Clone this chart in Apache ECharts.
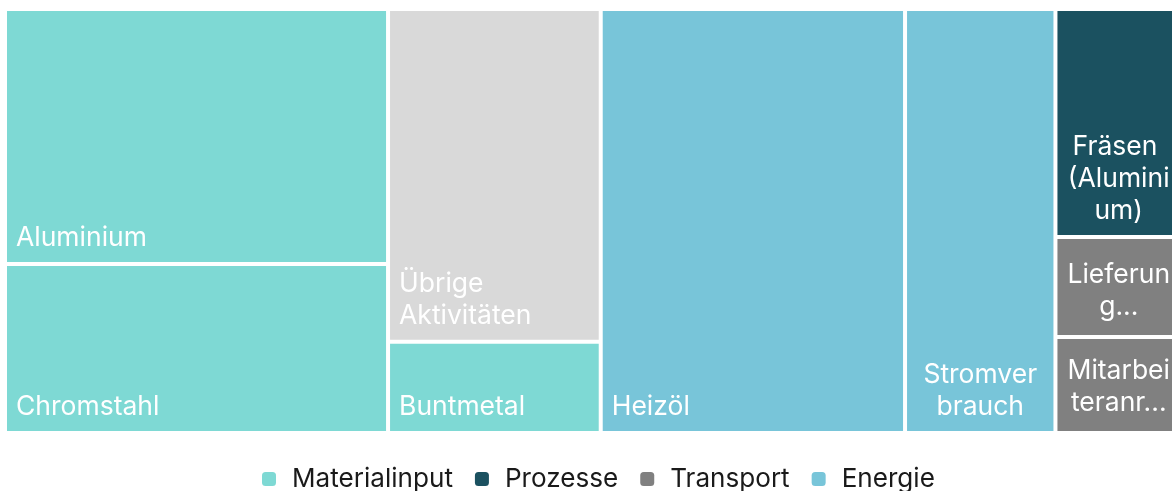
<!DOCTYPE html>
<html>
<head>
<meta charset="utf-8">
<script src="https://cdn.jsdelivr.net/npm/echarts@6/dist/echarts.min.js"></script>
<style>
  html, body { margin: 0; padding: 0; background: #fff; }
  #chart { width: 1172px; height: 491px; }
</style>
</head>
<body>
<div id="chart"></div>
<script>
// Legende / Kategorien
const categories = ['Materialinput', 'Prozesse', 'Transport', 'Energie'];
const categoryColors = ['#7ed9d4', '#1b5160', '#808080', '#78c5d9'];
const otherColor = '#d9d9d9';

// Anteile in %, Reihenfolge wie im Bild
const names = ['Aluminium', 'Chromstahl', 'Übrige Aktivitäten', 'Buntmetal', 'Heizöl',
               'Stromverbrauch', 'Fräsen (Aluminium)', 'Lieferung...', 'Mitarbeiteranr...'];
const values = [19.6, 13.0, 14.2, 3.9, 25.9, 12.8, 5.7, 2.5, 2.4];
const groups = ['Materialinput', 'Materialinput', null, 'Materialinput', 'Energie',
                'Energie', 'Prozesse', 'Transport', 'Transport'];
// 0 = Hauptblock, 1 = rechte Spalte
const blocks = [0, 0, 0, 0, 0, 0, 1, 1, 1];

// schmale Kacheln: Label zentriert
const labelTweaks = {
  'Stromverbrauch': {position: 'insideBottom'},
  'Fräsen (Aluminium)': {position: 'insideBottom', padding: [0, 6, 8, 8]},
  'Lieferung...': {position: 'insideBottom', padding: [0, 6, 12, 8]},
  'Mitarbeiteranr...': {position: 'insideBottom', padding: [0, 6, 12, 8]}
};

const tree = [{name: 'main', children: []}, {name: 'rest', children: []}];
names.forEach(function (n, i) {
  const g = groups[i];
  const node = {
    name: n,
    value: values[i],
    itemStyle: {color: g ? categoryColors[categories.indexOf(g)] : otherColor}
  };
  if (labelTweaks[n]) node.label = labelTweaks[n];
  tree[blocks[i]].children.push(node);
});

const totals = categories.map(function (c) {
  let s = 0;
  groups.forEach(function (g, i) { if (g === c) s += values[i]; });
  return s;
});

const chart = echarts.init(document.getElementById('chart'));
chart.setOption({
  animation: false,
  legend: {
    data: categories,
    left: 262,
    top: 466,
    padding: 0,
    icon: 'roundRect',
    itemWidth: 14,
    itemHeight: 14,
    itemGap: 22,
    selectedMode: false,
    textStyle: {fontFamily: 'Inter', fontSize: 26.1, color: '#1a1a1a', padding: [0, 0, 0, 11]}
  },
  series: [
    {
      type: 'treemap',
      left: 7,
      top: 11,
      width: 1171,
      height: 420,
      roam: false,
      nodeClick: false,
      breadcrumb: {show: false},
      sort: false,
      squareRatio: 1.3,
      label: {
        show: true,
        position: 'insideBottomLeft',
        distance: 0,
        overflow: 'break',
        fontFamily: 'Inter',
        fontSize: 26.5,
        lineHeight: 32,
        color: '#fff',
        padding: [0, 9, 8, 9]
      },
      upperLabel: {show: false},
      itemStyle: {borderWidth: 0, gapWidth: 4, borderColor: '#fff'},
      levels: [
        {itemStyle: {borderWidth: 0, gapWidth: 4}},
        {itemStyle: {borderWidth: 0, gapWidth: 4}},
        {itemStyle: {borderWidth: 0}}
      ],
      data: tree
    },
    {
      // nur für die Legende
      type: 'pie',
      radius: 0,
      center: [-50, -50],
      silent: true,
      showEmptyCircle: false,
      label: {show: false},
      labelLine: {show: false},
      data: categories.map(function (c, i) {
        return {name: c, value: totals[i], itemStyle: {color: categoryColors[i]}};
      })
    }
  ]
});
</script>
</body>
</html>
